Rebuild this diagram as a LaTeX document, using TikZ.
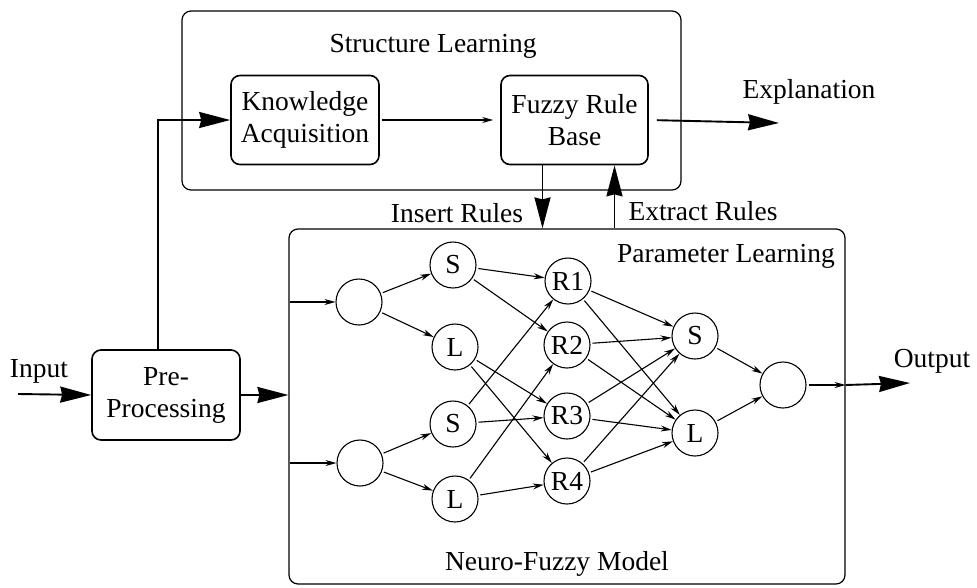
\documentclass[tikz,border=0pt]{standalone}
\usepackage{fontspec}
\setmainfont{Liberation Serif}
\usetikzlibrary{calc}
\usetikzlibrary{arrows.meta}

\tikzset{
	region/.style	= {draw, rounded corners=9pt, line width=1.2pt},
	block/.style	= {draw, rounded corners=9pt, line width=1.6pt, align=center, inner sep=0pt, minimum width=148pt, minimum height=89pt},
	neuron/.style	= {draw, circle, line width=1.1pt, minimum size=46pt, inner sep=0pt},
	link/.style		= {-{Stealth[length=11pt,width=6pt]}, line width=1.1pt, shorten <=2pt},
	flow/.style		= {-{Stealth[length=31pt,width=16pt,inset=2pt]}, line width=1.9pt},
}

\begin{document}
\begin{tikzpicture}[x=1pt, y=-1pt, font=\fontsize{27.5}{32}\selectfont]
	\useasboundingbox (0,0) rectangle (977,587);

	\node[region, minimum width=499pt, minimum height=179pt]	(structure)	at (431.5,100.5)	{};
	\node[region, minimum width=556pt, minimum height=355pt]	(nfmodel)	at (567,406.5)	{};

	\node[block]					(acquisition)	at (305,120)	{Knowledge\\Acquisition};
	\node[block, minimum width=147pt]	(rulebase)		at (574.5,120)	{Fuzzy Rule\\Base};
	\node[block, minimum height=90pt]	(preproc)		at (166,395)	{Pre-\\Processing};

	\coordinate (inputstart)	at (18,394);
	\coordinate (explanend)		at (779,123);
	\coordinate (outputend)		at (910,383);

	\node[anchor=base]	(structlabel)	at (433,52)		{Structure Learning};
	\node[anchor=base]	(paramlabel)	at (726,262)	{Parameter Learning};
	\node[anchor=base]	(modellabel)	at (557,570)	{Neuro-Fuzzy Model};
	\node[anchor=base]	(insertlabel)	at (457,222)	{Insert Rules};
	\node[anchor=base]	(extractlabel)	at (703,220)	{Extract Rules};
	\node[anchor=base]	(explanlabel)	at (809,98)		{Explanation};
	\node[anchor=base]	(inputlabel)	at (39,377)		{Input};
	\node[anchor=base]	(outputlabel)	at (932,367)	{Output};

	\node[neuron]	(in1)	at (359,302)	{};
	\node[neuron]	(in2)	at (360,463)	{};
	\node[neuron]	(s1)	at (453,265)	{S};
	\node[neuron]	(l1)	at (455,347)	{L};
	\node[neuron]	(s2)	at (453,424)	{S};
	\node[neuron]	(l2)	at (455,499)	{L};
	\node[neuron]	(r1)	at (568,281)	{R1};
	\node[neuron]	(r2)	at (567,345)	{R2};
	\node[neuron]	(r3)	at (567,416)	{R3};
	\node[neuron]	(r4)	at (567,481)	{R4};
	\node[neuron]	(os)	at (695,336)	{S};
	\node[neuron]	(ol)	at (695,433)	{L};
	\node[neuron]	(out)	at (783,385)	{};

	\draw[flow] (inputstart) -- (preproc.west);
	\draw[flow] (preproc.east) -- (preproc.east -| nfmodel.west);
	\draw[flow] ([xshift=-8pt]preproc.north) |- (acquisition.west);
	\draw[link, shorten >=7pt] (acquisition.east) -- (rulebase.west);
	\draw[flow, shorten <=8pt] (rulebase.east) -- (explanend);
	\draw[flow] ([xshift=-32pt]rulebase.south) -- ([xshift=-32pt]rulebase.south |- nfmodel.north);
	\draw[flow] ([xshift=40pt]rulebase.south |- nfmodel.north) -- ([xshift=40pt]rulebase.south);

	\draw[link] (nfmodel.west |- in1) -- (in1);
	\draw[link] (nfmodel.west |- in2) -- (in2);
	\draw[link] (in1) -- (s1);
	\draw[link] (in1) -- (l1);
	\draw[link] (in2) -- (s2);
	\draw[link] (in2) -- (l2);

	\draw[link] (s1) -- (r1);
	\draw[link] (s1) -- (r2);
	\draw[link] (l1) -- (r3);
	\draw[link] (l1) -- (r4);
	\draw[link] (s2) -- (r1);
	\draw[link] (s2) -- (r3);
	\draw[link] (l2) -- (r2);
	\draw[link] (l2) -- (r4);

	\draw[link] (r1) -- (os);
	\draw[link] (r1) -- (ol);
	\draw[link] (r2) -- (os);
	\draw[link] (r2) -- (ol);
	\draw[link] (r3) -- (os);
	\draw[link] (r3) -- (ol);
	\draw[link] (r4) -- (os);
	\draw[link] (r4) -- (ol);

	\draw[link] (os) -- (out);
	\draw[link] (ol) -- (out);
	\draw[link] (out) -- (out -| nfmodel.east);
	\draw[flow] (out -| nfmodel.east) -- (outputend);
\end{tikzpicture}
\end{document}
